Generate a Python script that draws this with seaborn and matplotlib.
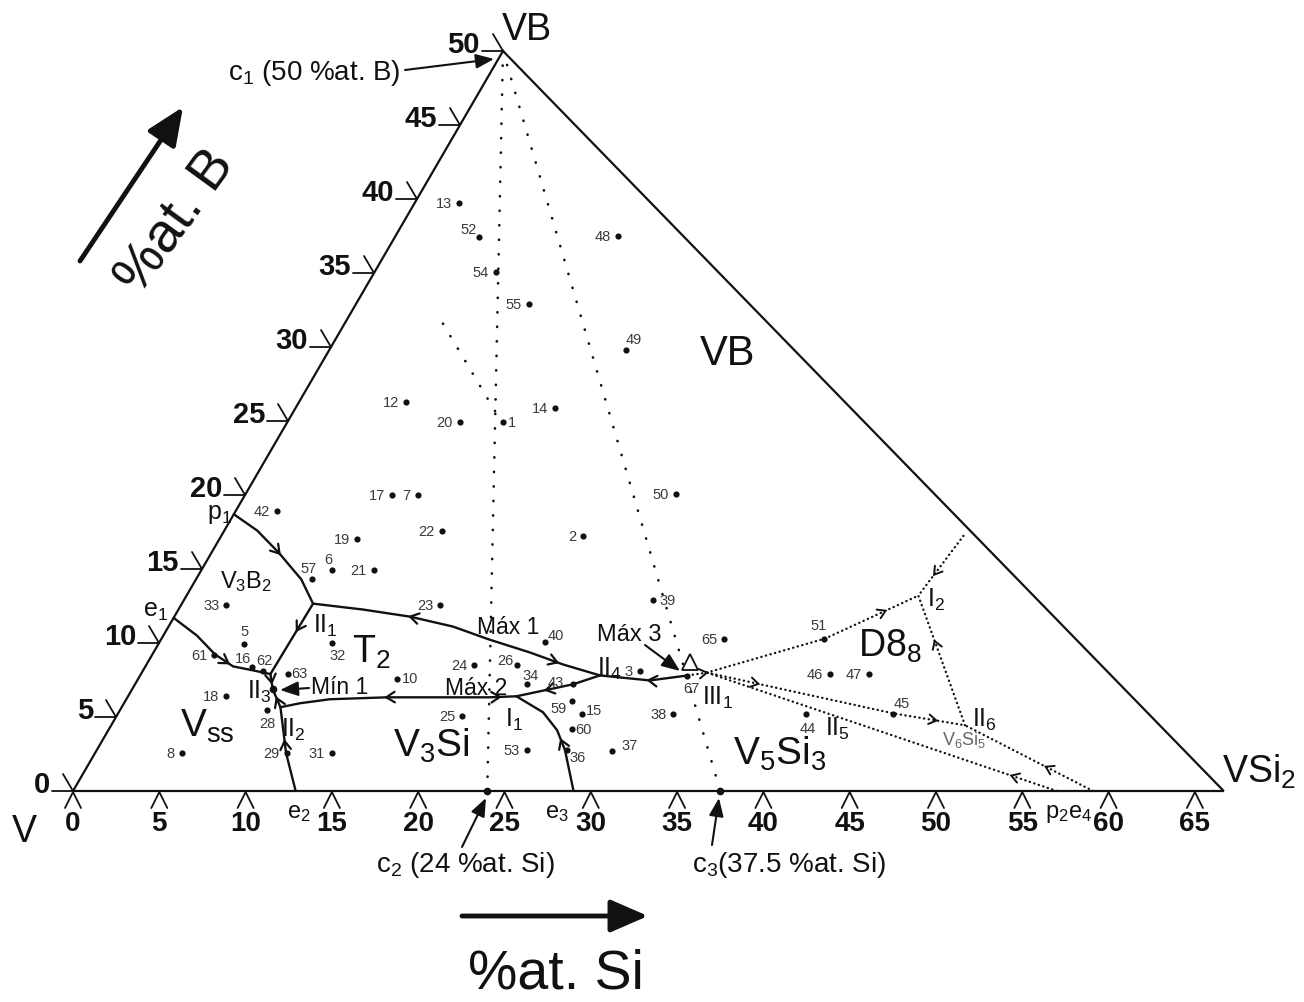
import numpy as np
import matplotlib
matplotlib.use("Agg")
import matplotlib.pyplot as plt
from matplotlib.transforms import Affine2D
from matplotlib import font_manager
import seaborn as sns

# ---------------- data : compositions in at.% Si and at.% B ----------------
corner_si = [0.0, 0.0, 66.67]
corner_b = [0.0, 50.0, 0.0]
si_ticks = [0, 5, 10, 15, 20, 25, 30, 35, 40, 45, 50, 55, 60, 65]
b_ticks = [0, 5, 10, 15, 20, 25, 30, 35, 40, 45, 50]

sample_ids = [1, 2, 3, 5, 6, 7, 8, 10, 12, 13, 14, 15, 16, 17, 18, 19, 20, 21, 22, 23,
              24, 25, 26, 28, 29, 31, 32, 33, 34, 36, 37, 38, 39, 40, 42, 43, 44, 45,
              46, 47, 48, 49, 50, 51, 52, 53, 54, 55, 57, 59, 60, 61, 62, 63, 65, 67]
sample_si = [12.5, 21.0, 28.8, 5.0, 7.6, 10.0, 5.0, 15.0, 6.2, 2.6, 15.0, 26.9, 6.2, 8.5,
             5.7, 8.0, 10.0, 10.0, 12.6, 15.0, 19.0, 20.0, 21.5, 8.5, 11.1, 13.7, 10.0,
             2.6, 22.7, 27.2, 29.9, 32.2, 27.2, 22.3, 2.4, 25.4, 39.9, 44.9, 39.9, 42.2,
             12.9, 17.2, 24.9, 38.4, 4.9, 24.9, 7.0, 10.0, 6.7, 25.9, 26.8, 3.6, 7.0,
             8.5, 32.6, 31.7]
sample_b = [24.9, 17.2, 8.1, 9.9, 14.9, 20.0, 2.6, 7.6, 26.3, 39.7, 25.9, 5.2, 8.4, 20.0,
            6.4, 17.0, 24.9, 14.9, 17.6, 12.6, 8.5, 5.1, 8.5, 5.5, 2.6, 2.6, 10.0, 12.6,
            7.2, 2.8, 2.7, 5.2, 12.9, 10.1, 18.9, 7.2, 5.2, 5.2, 7.9, 7.9, 37.5, 29.8,
            20.1, 10.3, 37.4, 2.8, 35.1, 32.9, 14.3, 6.1, 4.2, 9.2, 8.1, 7.9, 10.3, 7.8]

# invariant points / special compositions
c_si = [24.0, 37.5]            # c2, c3 on the V-VSi2 side
min1_si, min1_b = [8.15], [6.87]
max3_si, max3_b = [31.4], [8.75]

# monovariant curves (solid)
p1_II1_si = [0.0, 1.9, 3.9, 6.1, 7.6]
p1_II1_b = [18.7, 17.6, 16.1, 14.3, 12.66]
e1_II3_si = [0.0, 1.95, 3.63, 5.08, 6.37, 7.5]
e1_II3_b = [11.7, 10.5, 9.23, 8.42, 8.15, 7.9]
II1_II3_si = [7.6, 7.5]
II1_II3_b = [12.66, 7.9]
II3_II2_si = [7.5, 8.15, 9.2]
II3_II2_b = [7.9, 6.87, 5.66]
e2_II2_si = [12.9, 11.07, 9.2]
e2_II2_b = [0.0, 2.56, 5.66]
I1_II2_si = [22.5, 20.95, 15.04, 11.8, 10.2, 9.2]
I1_II2_b = [6.4, 6.33, 6.33, 6.2, 5.93, 5.66]
II1_II4_si = [7.6, 10.7, 13.66, 16.48, 19.0, 21.81, 24.13, 26.64]
II1_II4_b = [12.66, 12.26, 11.78, 11.11, 10.24, 9.36, 8.55, 7.81]
I1_II4_si = [22.5, 25.38, 26.64]
I1_II4_b = [6.4, 7.21, 7.81]
e3_I1_si = [29.0, 27.13, 26.0, 24.58, 22.5]
e3_I1_b = [0.0, 2.76, 4.11, 5.32, 6.4]
m67_II4_si = [31.74, 29.7, 26.64]
m67_II4_b = [7.81, 7.47, 7.81]

# tentative curves (fine dotted)
m67_III1_si = [31.74, 32.74]
m67_III1_b = [7.81, 8.0]
III1_I2_si = [32.74, 38.44, 42.4]
III1_I2_b = [8.0, 10.3, 13.2]
III1_II6_si = [32.74, 44.89, 49.47]
III1_II6_b = [8.0, 5.25, 4.44]
p2_III1_si = [57.0, 32.74]
p2_III1_b = [0.0, 8.0]
e4_II6_si = [59.1, 49.47]
e4_II6_b = [0.0, 4.44]
II6_I2_si = [49.47, 42.4]
II6_I2_b = [4.44, 13.2]
top_I2_si = [43.0, 42.4]
top_I2_b = [17.24, 13.2]

# construction lines (sparse dotted)
c1c2_si, c1c2_b = [0.0, 24.0], [50.0, 0.0]
c1c3_si, c1c3_b = [0.0, 37.5], [50.0, 0.0]
branch_si, branch_b = [5.7, 11.67], [31.58, 25.66]

# ---------------- style ----------------
sns.set_theme(style="white")
plt.rcParams['font.family'] = ['Liberation Sans', 'DejaVu Sans']
plt.rcParams['mathtext.default'] = 'regular'
_names = {f.name for f in font_manager.fontManager.ttflist}
NARROW = 'Liberation Sans Narrow' if 'Liberation Sans Narrow' in _names else None

fig = plt.figure(figsize=(13.04, 10.03), dpi=100)
ax = fig.add_axes([0, 0, 1, 1])
ax.set_xlim(0, 1304)
ax.set_ylim(1003, 0)
ax.axis('off')

tern_aff = Affine2D().from_values(17.26, 0.0, 8.6, -14.8, 73.0, 792.0)
tern = tern_aff + ax.transData
K = '#111111'


def px(si, b):
    return tern_aff.transform(np.column_stack([si, b]))


def chevron(si, b, frac, forward=True, size=10.0, half=32, lw=1.6):
    pts = px(si, b)
    seg = np.diff(pts, axis=0)
    L = np.hypot(seg[:, 0], seg[:, 1])
    cum = np.concatenate([[0.0], np.cumsum(L)])
    s = frac * cum[-1]
    i = int(min(max(np.searchsorted(cum, s, side='right') - 1, 0), len(seg) - 1))
    t = (s - cum[i]) / L[i]
    p = pts[i] + t * seg[i]
    d = seg[i] / L[i]
    if not forward:
        d = -d
    a = np.radians(half)
    arms = []
    for sg in (1, -1):
        c, sn = np.cos(sg * a), np.sin(sg * a)
        r = np.array([c * d[0] - sn * d[1], sn * d[0] + c * d[1]])
        arms.append(p - size * r)
    ax.plot([arms[0][0], p[0], arms[1][0]], [arms[0][1], p[1], arms[1][1]],
            color=K, lw=lw, solid_capstyle='round', solid_joinstyle='miter')


# triangle
ax.plot(corner_si + [corner_si[0]], corner_b + [corner_b[0]], transform=tern,
        color=K, lw=1.6, solid_joinstyle='miter')

# left axis ticks
for bv in b_ticks:
    x0, y0 = px([0.0], [bv])[0]
    ax.plot([x0 - 21, x0], [y0, y0], color=K, lw=1.3)
    ax.plot([x0 - 10, x0], [y0 - 17, y0], color=K, lw=1.3)
    ax.text(x0 - 23, y0 + 1, str(bv), ha='right', va='baseline', fontsize=21,
            fontweight='bold', color=K)

# bottom axis ticks
for sv in si_ticks:
    x0, y0 = px([sv], [0.0])[0]
    ax.plot([x0 - 8, x0, x0 + 8], [y0 + 17, y0 + 1, y0 + 17], color=K, lw=1.3)
    if NARROW:
        ax.text(x0, y0 + 19, str(sv), ha='center', va='top', fontsize=24,
                fontweight='bold', family=[NARROW, 'Liberation Sans'], color=K)
    else:
        ax.text(x0, y0 + 19, str(sv), ha='center', va='top', fontsize=20,
                fontweight='bold', color=K)

# sparse dotted construction lines
for s_, b_ in [(c1c2_si, c1c2_b), (c1c3_si, c1c3_b), (branch_si, branch_b)]:
    ax.plot(s_, b_, transform=tern, color=K, lw=1.9, ls=(0, (0.1, 5.4)),
            dash_capstyle='round')

# solid monovariant curves
solid = [(p1_II1_si, p1_II1_b), (e1_II3_si, e1_II3_b), (II1_II3_si, II1_II3_b),
         (II3_II2_si, II3_II2_b), (e2_II2_si, e2_II2_b), (I1_II2_si, I1_II2_b),
         (II1_II4_si, II1_II4_b), (I1_II4_si, I1_II4_b), (e3_I1_si, e3_I1_b),
         (m67_II4_si, m67_II4_b)]
for s_, b_ in solid:
    ax.plot(s_, b_, transform=tern, color=K, lw=1.7, solid_capstyle='round')

# fine dotted tentative curves
dotted = [(m67_III1_si, m67_III1_b), (III1_I2_si, III1_I2_b), (III1_II6_si, III1_II6_b),
          (p2_III1_si, p2_III1_b), (e4_II6_si, e4_II6_b), (II6_I2_si, II6_I2_b),
          (top_I2_si, top_I2_b)]
for s_, b_ in dotted:
    ax.plot(s_, b_, transform=tern, color=K, lw=1.7, ls=(0, (0.1, 1.9)),
            dash_capstyle='round')

# arrows along curves
chevron(p1_II1_si, p1_II1_b, 0.5)
chevron(e1_II3_si, e1_II3_b, 0.62)
chevron(II1_II3_si, II1_II3_b, 0.38)
chevron(II3_II2_si, II3_II2_b, 0.25)
chevron(II3_II2_si, II3_II2_b, 0.72, forward=False)
chevron(e2_II2_si, e2_II2_b, 0.6)
chevron(I1_II2_si, I1_II2_b, 0.07, forward=False)
chevron(I1_II2_si, I1_II2_b, 0.55)
chevron(II1_II4_si, II1_II4_b, 0.33, forward=False)
chevron(II1_II4_si, II1_II4_b, 0.85)
chevron(I1_II4_si, I1_II4_b, 0.35, forward=False)
chevron(e3_I1_si, e3_I1_b, 0.45)
chevron(m67_II4_si, m67_II4_b, 0.45)
chevron(m67_III1_si, m67_III1_b, 1.0, size=9, lw=1.4)
chevron(III1_I2_si, III1_I2_b, 0.84, size=9, lw=1.4)
chevron(III1_II6_si, III1_II6_b, 0.2, size=9, lw=1.4)
chevron(III1_II6_si, III1_II6_b, 0.89, size=9, lw=1.4)
chevron(p2_III1_si, p2_III1_b, 0.13, size=9, lw=1.4)
chevron(e4_II6_si, e4_II6_b, 0.37, size=9, lw=1.4)
chevron(II6_I2_si, II6_I2_b, 0.65, size=9, lw=1.4)
chevron(top_I2_si, top_I2_b, 0.65, size=9, lw=1.4)

# sample points
sns.scatterplot(x=sample_si, y=sample_b, transform=tern, color=K, s=20,
                linewidth=0, ax=ax, legend=False, zorder=5)
ax.plot(c_si, [0.0, 0.0], 'o', transform=tern, color=K, ms=4.5)
ax.plot(min1_si, min1_b, 'o', transform=tern, color=K, ms=4.5)
ax.plot(max3_si, max3_b, '^', transform=tern, mfc='none', mec=K, mew=1.3, ms=12)

# sample labels: (dx, dy) in px, anchor
label_style = {
    1: (5, 0, 'left'), 5: (0, -13, 'center'), 26: (-12, -5, 'center'),
    34: (4, -9, 'center'), 32: (6, 12, 'center'), 51: (-6, -14, 'center'),
    45: (9, -11, 'center'), 44: (1, 14, 'center'), 6: (-4, -11, 'center'),
    57: (-3, -11, 'center'), 28: (0, 13, 'center'), 59: (-14, 7, 'center'),
    52: (-11, -8, 'center'), 67: (4, 12, 'center'), 16: (-9, -9, 'center'),
    62: (1, -11, 'center'), 49: (8, -11, 'center'), 37: (17, -6, 'center'),
    36: (11, 7, 'center'), 40: (11, -7, 'center'), 39: (6, 0, 'left'),
    63: (4, -1, 'left'), 60: (4, 0, 'left'), 15: (4, -4, 'left'),
    10: (5, -1, 'left'), 43: (-9, -2, 'right'),
}
P = 0.72
for sid, s_, b_ in zip(sample_ids, sample_si, sample_b):
    dx, dy, ha = label_style.get(sid, (-7, 0, 'right'))
    ax.annotate(str(sid), xy=(s_, b_), xycoords=tern, xytext=(dx * P, -dy * P),
                textcoords='offset points', ha=ha, va='center', fontsize=10.5,
                color='#3a3a3a')

# texts (layout in pixel coordinates)
texts = [
    ("VB", 502, 40, 27), (r"VSi$_2$", 1222, 783, 27), ("V", 12, 842, 27),
    ("%at. Si", 468, 989, 40),
    ("VB", 700, 365, 30), (r"D8$_8$", 858, 657, 27), (r"V$_5$Si$_3$", 733, 765, 28),
    (r"V$_3$Si", 393, 757, 28), (r"T$_2$", 352, 663, 27), (r"V$_{ss}$", 180, 737, 28),
    (r"V$_3$B$_2$", 220, 588, 17),
    (r"II$_1$", 313, 633, 18), (r"II$_2$", 281, 737, 18), (r"II$_3$", 247, 699, 18),
    (r"II$_4$", 597, 676, 18), (r"II$_5$", 825, 736, 18), (r"II$_6$", 972, 727, 18),
    (r"III$_1$", 702, 705, 18), (r"I$_1$", 505, 727, 18), (r"I$_2$", 927, 607, 18),
    (r"p$_1$", 207, 519, 18), (r"e$_1$", 143, 617, 18),
    (r"e$_2$", 287, 818, 17), (r"e$_3$", 545, 818, 17), (r"p$_2$e$_4$", 1045, 818, 17),
    ("Máx 1", 477, 634, 16.5), ("Máx 2", 445, 695, 16.5), ("Máx 3", 597, 641, 17),
    ("Mín 1", 311, 694, 16.5),
    (r"c$_1$ (50 %at. B)", 228, 80, 20), (r"c$_2$ (24 %at. Si)", 376, 872, 20),
    (r"c$_3$(37.5 %at. Si)", 692, 872, 20),
]
for s_, x_, y_, fs in texts:
    ax.text(x_, y_, s_, ha='left', va='baseline', fontsize=fs, color=K)
ax.text(942, 745, r"V$_6$Si$_5$", ha='left', va='baseline', fontsize=13, color='#666666')
ax.text(176, 222, "%at. B", ha='center', va='center', fontsize=40, rotation=54,
        rotation_mode='anchor', color=K)

# annotation arrows
big = dict(arrowstyle='-|>,head_length=1.15,head_width=0.5', lw=3.5, color=K,
           mutation_scale=20, shrinkA=0, shrinkB=0)
ax.annotate('', xy=(648, 917), xytext=(462, 917), arrowprops=big)
ax.annotate('', xy=(183, 108), xytext=(80, 262), arrowprops=big)
small = dict(arrowstyle='-|>,head_length=1.0,head_width=0.4', lw=1.5, color=K,
             mutation_scale=11, shrinkA=0, shrinkB=0)
for tip, tail in [((494, 60), (405, 71)), ((486, 799), (462, 848)),
                  ((719, 799), (712, 846)), ((680, 672), (645, 646)),
                  ((280, 691), (309, 689))]:
    ax.annotate('', xy=tip, xytext=tail, arrowprops=small)

ax.set_xlim(0, 1304)
ax.set_ylim(1003, 0)
fig.savefig("out.png", dpi=100, facecolor='white')
